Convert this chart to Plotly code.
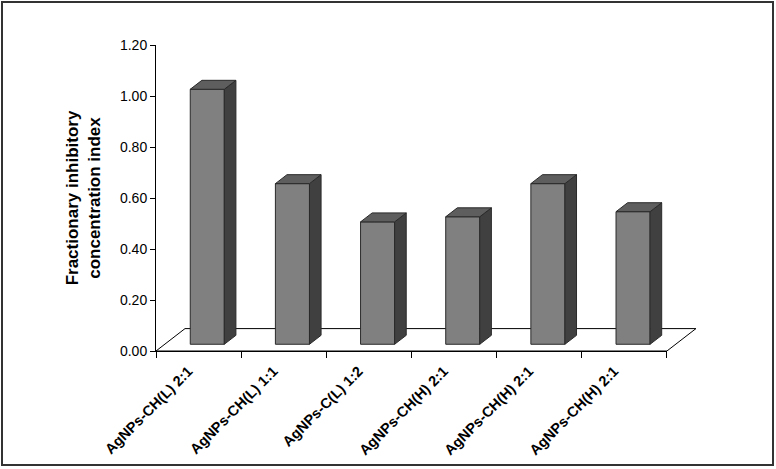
import plotly.graph_objects as go

# ---- data ----
categories = ["AgNPs-CH(L) 2:1", "AgNPs-CH(L) 1:1", "AgNPs-C(L) 1:2",
              "AgNPs-CH(H) 2:1", "AgNPs-CH(H) 2:1", "AgNPs-CH(H) 2:1"]
fici_values = [1.00, 0.63, 0.48, 0.50, 0.63, 0.52]
y_tick_values = [0.0, 0.2, 0.4, 0.6, 0.8, 1.0, 1.2]
y_title = "Fractionary inhibitory<br>concentration index"

# ---- layout / style ----
W, H = 776, 469
ML, MR, MT, MB = 156, 75, 45, 118
n = len(categories)
x_max = n + 0.4          # room for the receding floor
y_max = 1.2
px_x = (W - ML - MR) / x_max
px_y = (H - MT - MB) / y_max
ux = 29 / px_x           # floor depth offset (x, data units)
uy = 22.4 / px_y         # floor depth offset (y, data units)
f_front, f_back = 0.3, 0.7   # bar depth position within floor
bar_w = 0.4
label_shift = -0.12
FRONT, SIDE, TOP, EDGE = "#808080", "#404040", "#5e5e5e", "#2a2a2a"
FONT = "Liberation Sans, Arial, sans-serif"

fig = go.Figure()

# floor
fig.add_trace(go.Scatter(
    x=[0, n, n + ux, ux, 0], y=[0, 0, uy, uy, 0],
    mode="lines", fill="toself", fillcolor="white",
    line=dict(color="black", width=1), hoverinfo="skip", showlegend=False))

fx, fy, sx, sy, tx, ty = [], [], [], [], [], []
for i, v in enumerate(fici_values):
    xl = i + 0.5 - bar_w / 2
    xr = i + 0.5 + bar_w / 2
    ax, ay = f_front * ux, f_front * uy
    bx, by = f_back * ux, f_back * uy
    # front face
    fx += [xl + ax, xr + ax, xr + ax, xl + ax, xl + ax, None]
    fy += [ay, ay, ay + v, ay + v, ay, None]
    # side face
    sx += [xr + ax, xr + bx, xr + bx, xr + ax, xr + ax, None]
    sy += [ay, by, by + v, ay + v, ay, None]
    # top face
    tx += [xl + ax, xr + ax, xr + bx, xl + bx, xl + ax, None]
    ty += [ay + v, ay + v, by + v, by + v, ay + v, None]

for xs, ys, col in [(fx, fy, FRONT), (sx, sy, SIDE), (tx, ty, TOP)]:
    fig.add_trace(go.Scatter(
        x=xs, y=ys, mode="lines", fill="toself", fillcolor=col,
        line=dict(color=EDGE, width=1), hoverinfo="skip", showlegend=False))

# helper trace for the category boundary axis
fig.add_trace(go.Scatter(x=[0, n], y=[None, None], xaxis="x2", yaxis="y",
                         mode="lines", hoverinfo="skip", showlegend=False))

# outer frame (paper coords)
def px2paper_x(p):
    return (p - ML) / (W - ML - MR)

def px2paper_y(p):
    return (H - MB - p) / (H - MT - MB)

fig.add_shape(type="rect", xref="paper", yref="paper",
              x0=px2paper_x(2), x1=px2paper_x(773),
              y0=px2paper_y(465), y1=px2paper_y(2),
              line=dict(color="#333333", width=2))

fig.update_layout(
    width=W, height=H,
    margin=dict(l=ML, r=MR, t=MT, b=MB, autoexpand=False),
    paper_bgcolor="white", plot_bgcolor="rgba(0,0,0,0)",
    font=dict(family=FONT, color="black"),
    xaxis=dict(range=[0, x_max], domain=[0, 1], showline=False, showgrid=False,
               zeroline=False, ticks="",
               tickvals=[i + 0.5 + label_shift for i in range(n)],
               ticktext=categories, tickangle=-45, ticklabelstandoff=8,
               tickfont=dict(family=FONT, size=14.5, color="black", weight="bold")),
    xaxis2=dict(range=[0, n], domain=[0, n / x_max], anchor="y", side="bottom",
                showline=True, linecolor="black", linewidth=1,
                showgrid=False, zeroline=False,
                tickvals=list(range(n + 1)), ticks="outside", ticklen=6,
                tickcolor="black", showticklabels=False),
    yaxis=dict(range=[0, y_max], showline=True, linecolor="black", linewidth=1,
               showgrid=False, zeroline=False, tickvals=y_tick_values,
               tickformat=".2f", ticks="outside", ticklen=5, tickcolor="black",
               tickfont=dict(family=FONT, size=14, color="black"),
               title=dict(text=y_title, standoff=14,
                          font=dict(family=FONT, size=17, color="black",
                                    weight="bold"))),
)

fig.write_html("out.html",
               config={"displayModeBar": False},
               post_script="document.body.style.margin='0';"
                           "document.body.style.overflow='hidden';")
